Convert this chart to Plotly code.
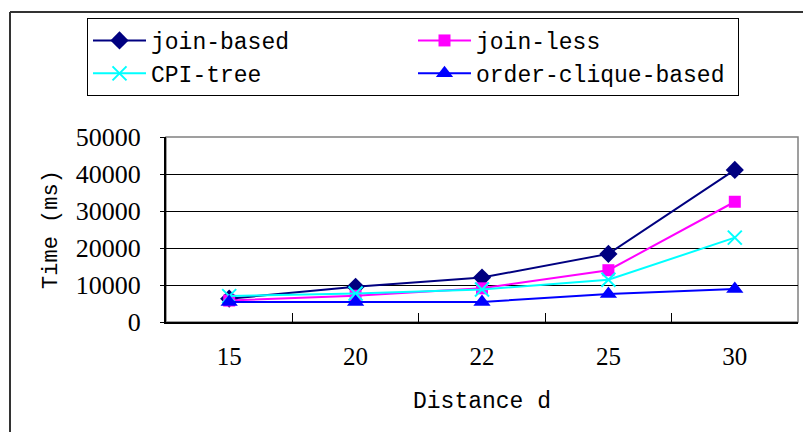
import plotly.graph_objects as go

distances = ["15", "20", "22", "25", "30"]
join_based = [6300, 9500, 12000, 18400, 41100]
join_less = [5800, 7100, 9100, 14000, 32500]
cpi_tree = [7000, 7700, 8800, 11400, 22800]
order_clique = [5400, 5400, 5400, 7600, 8900]
y_ticks = [0, 10000, 20000, 30000, 40000, 50000]
y_tick_labels = ["0", "10000", "20000", "30000", "40000", "50000"]

series = [
    ("join-based", join_based, "#000080", "diamond", 14, None),
    ("join-less", join_less, "#FF00FF", "square", 12, None),
    ("CPI-tree", cpi_tree, "#00FFFF", "x-thin", 14, 2),
    ("order-clique-based", order_clique, "#0000FF", "triangle-up", 15, None),
]

fig = go.Figure()
for name, vals, col, sym, size, lw in series:
    marker = dict(symbol=sym, size=size, color=col)
    if lw:
        marker["line"] = dict(color=col, width=lw)
    fig.add_trace(go.Scatter(
        x=distances, y=vals, name=name, mode="lines+markers",
        line=dict(color=col, width=2), marker=marker,
    ))

L, R, T, B = 166, 5, 137, 110
W, H = 803, 432
pw = W - L - R
ph = H - T - B

def px2paper_x(px):
    return (px - L) / pw

def px2paper_y(py):
    return (H - B - py) / ph

fig.update_layout(
    width=W, height=H,
    margin=dict(l=L, r=R, t=T, b=B),
    paper_bgcolor="white", plot_bgcolor="white",
    showlegend=True,
    legend=dict(
        orientation="h",
        x=px2paper_x(87), y=px2paper_y(18),
        xanchor="left", yanchor="top",
        itemwidth=53,
        entrywidth=257, entrywidthmode="pixels",
        bgcolor="white", bordercolor="black", borderwidth=1,
        font=dict(family="Liberation Mono", size=23, color="black"),
        traceorder="normal",
    ),
    xaxis=dict(
        type="category", range=[-0.5, 4.5],
        showline=True, linecolor="black", linewidth=2,
        ticks="inside", ticklen=9, tickcolor="black", tickson="boundaries",
        showgrid=False,
        tickfont=dict(family="Liberation Serif", size=25, color="black"),
        ticklabelstandoff=11,
        title=dict(text="Distance d", standoff=23,
                   font=dict(family="Liberation Mono", size=23, color="black")),
        fixedrange=True,
    ),
    yaxis=dict(
        range=[0, 50000], tickvals=y_ticks, ticktext=y_tick_labels,
        showline=True, linecolor="black", linewidth=2,
        ticks="outside", ticklen=4, tickcolor="black",
        showgrid=True, gridcolor="black", gridwidth=1,
        tickfont=dict(family="Liberation Serif", size=26, color="black"),
        ticklabelstandoff=14,
        title=dict(text="Time (ms)", standoff=12,
                   font=dict(family="Liberation Mono", size=22, color="black")),
        zeroline=False,
        fixedrange=True,
    ),
    shapes=[
        dict(type="rect", xref="paper", yref="paper", x0=0, x1=1, y0=0, y1=1,
             line=dict(color="#808080", width=1.5), layer="below"),
        dict(type="line", xref="paper", yref="paper",
             x0=px2paper_x(10), x1=px2paper_x(810), y0=px2paper_y(12), y1=px2paper_y(12),
             line=dict(color="#333333", width=2)),
        dict(type="line", xref="paper", yref="paper",
             x0=px2paper_x(10), x1=px2paper_x(10), y0=px2paper_y(12), y1=px2paper_y(440),
             line=dict(color="#333333", width=2)),
    ],
)

fig.write_html("out.html")
